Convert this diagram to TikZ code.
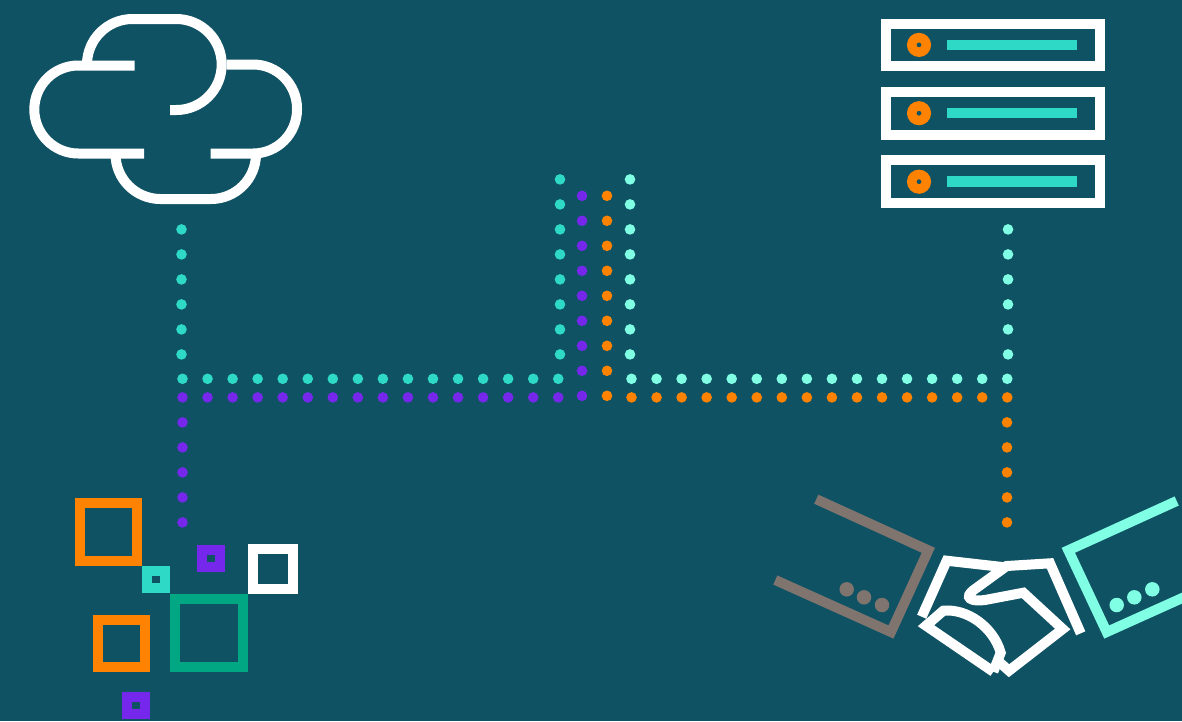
\documentclass[tikz,border=0pt]{standalone}
\usepackage{xcolor}
\usetikzlibrary{positioning}
\definecolor{bgblue}{HTML}{0F5264}
\definecolor{tealc}{HTML}{2EDAC6}
\definecolor{mintc}{HTML}{80FFE4}
\definecolor{purplec}{HTML}{7528EB}
\definecolor{orangec}{HTML}{FF8300}
\definecolor{greenc}{HTML}{00A782}
\definecolor{greyc}{HTML}{80746E}
\tikzset{
  dotn/.style    ={circle, inner sep=0pt, minimum size=10.6pt, fill=#1},
  handdot/.style ={circle, inner sep=0pt, minimum size=14.5pt, fill=#1},
  sq/.style      ={draw=#1, line width=10pt, inner sep=0pt, outer sep=0pt},
  serverbox/.style={draw=white, line width=10pt, inner sep=0pt, outer sep=0pt,
                 minimum width=214pt, minimum height=42.7pt},
  led/.style     ={circle, draw=orangec, line width=9.5pt, inner sep=0pt, minimum size=14.5pt},
  bar/.style     ={fill=tealc, inner sep=0pt, outer sep=0pt, minimum width=130pt, minimum height=10.5pt},
  stroke/.style  ={line width=10pt},
  cloudline/.style={draw=white, line width=10pt, rounded corners=#1},
}

\begin{document}
\begin{tikzpicture}[x=1pt, y=-1pt]
  \clip (0,0) rectangle (1182,721);
  \fill[bgblue] (0,0) rectangle (1182,721);
  % cloud
  \draw[cloudline=45.5pt] (87,66) -- (87,19) -- (221.7,19) -- (221.7,110) -- (170,110);
  \draw[cloudline=44pt] (134.5,65.5) -- (34.3,65.5) -- (34.3,153.5) -- (144,153.5);
  \draw[cloudline=44pt] (226.5,64.5) -- (297,64.5) -- (297,153.5) -- (210.7,153.5);
  \draw[cloudline=45pt] (115.5,153) -- (115.5,199) -- (256,199) -- (256,153);
  % servers
  \foreach \i/\y in {1/44.9, 2/113.2, 3/181.7}{
    \node[serverbox] (srv\i) at (993,\y) {};
    \node[led] (led\i) at (919,\y) {};
    \node[bar] (bar\i) at (1012,\y) {};
  }
  % dots
  \foreach \i in {0,...,5}{
    \node[dotn=tealc] (ta\i) at (181.5,{229.4+25*\i}) {};
    \node[dotn=mintc] (ma\i) at (1008,{229.4+25*\i}) {};
  }
  \foreach \i in {0,...,15}{
    \node[dotn=tealc] (tb\i) at ({182.5+25.05*\i},378.8) {};
    \node[dotn=purplec] (pb\i) at ({182.5+25.05*\i},397.4) {};
    \node[dotn=mintc] (mb\i) at ({631.5+25.05*\i},378.8) {};
    \node[dotn=orangec] (ob\i) at ({631.5+25.05*\i},397.4) {};
  }
  \foreach \i in {0,...,7}{
    \node[dotn=tealc] (tc\i) at (560,{179.4+25*\i}) {};
    \node[dotn=mintc] (mc\i) at (630,{179.4+25*\i}) {};
  }
  \foreach \i in {0,...,8}{
    \node[dotn=purplec] (pc\i) at (582,{195.8+25*\i}) {};
    \node[dotn=orangec] (oc\i) at (607,{195.8+25*\i}) {};
  }
  \foreach \i in {1,...,5}{
    \node[dotn=purplec] (pd\i) at (182.5,{397.4+25*\i}) {};
    \node[dotn=orangec] (od\i) at (1007,{397.4+25*\i}) {};
  }
  % squares
  \node[sq=orangec, minimum size=57.5pt] (sqa) at (108.7,532) {};
  \node[sq=tealc, minimum size=17.5pt] (sqb) at (156,579.7) {};
  \node[sq=purplec, minimum size=17.5pt] (sqc) at (211,558.5) {};
  \node[sq=white, minimum size=40pt] (sqd) at (273,568.5) {};
  \node[sq=greenc, minimum size=68.3pt] (sqe) at (209.2,633) {};
  \node[sq=orangec, minimum size=47.5pt] (sqf) at (121.4,643.7) {};
  \node[sq=purplec, minimum size=17.5pt] (sqg) at (136,705.7) {};
  % handshake
  \draw[stroke, greyc] (816.3,499.2) -- (928.3,550.3) -- (891,632) -- (775.3,580);
  \draw[stroke, mintc] (1176.7,501) -- (1068.3,550.3) -- (1106.7,632) -- (1190,594.5);
  \node[handdot=greyc] (ga) at (846.7,589.3) {};
  \node[handdot=greyc] (gb) at (864,597.3) {};
  \node[handdot=greyc] (gc) at (882,605) {};
  \node[handdot=mintc] (ha) at (1116.7,605) {};
  \node[handdot=mintc] (hb) at (1134.3,597.3) {};
  \node[handdot=mintc] (hc) at (1152.3,589.3) {};
  \draw[stroke, white] (921.7,616.7) -- (946.7,560.7) -- (1005,567.3);
  \draw[stroke, white] (1080.7,633.3) -- (1050,563.3) -- (1006.7,566) -- (975,589)
    .. controls (962,598) and (972,602) .. (985,600) -- (1023.3,592.7) -- (1062.7,629)
    -- (1009,670.7) -- (995,658.3);
  \draw[stroke, white] (993.3,671.7) -- (926,625.7) -- (943.3,610.7)
    .. controls (966.7,608.3) and (993.3,626.7) .. (1000.7,652.7) -- (993.3,671.7);
\end{tikzpicture}
\end{document}
